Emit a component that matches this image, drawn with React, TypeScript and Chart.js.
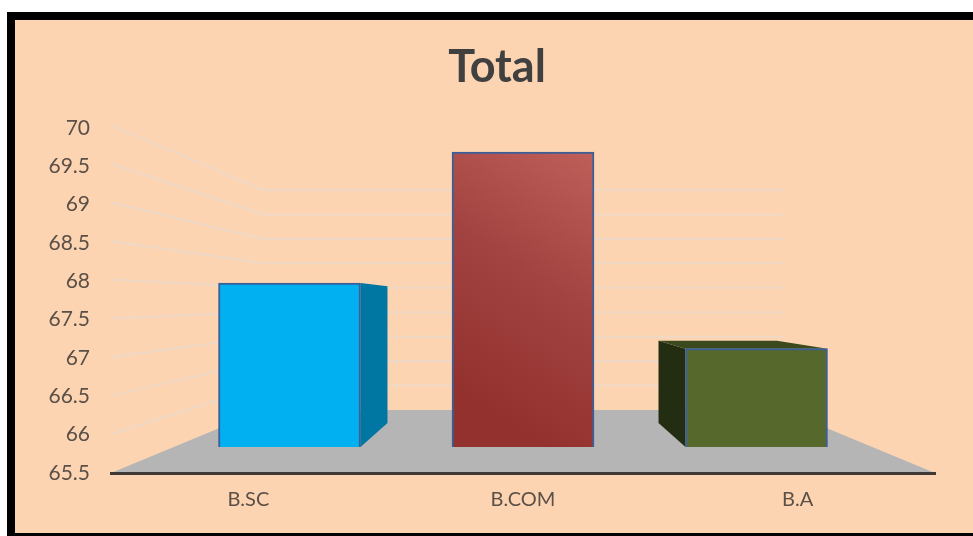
import React, { useEffect, useRef } from "react";
import { Chart, registerables } from "chart.js";

Chart.register(...registerables);

const categories = ["B.SC", "B.COM", "B.A"];
const totals = [68, 70, 67];
const barFills = ["#00B0F0", "#A34341", "#56682C"];
const sideFills = ["#0076A3", null, "#232D12"];
const topFills = [null, null, "#3B4A1E"];

const BASE_VALUE = 65.5;
// How far a bar's rear edge sits between its front face and the back wall.
const BAR_DEPTH = 0.65;
// Horizontal shrink of a bar's rear edge towards the vanishing point.
const REAR_SHRINK = 0.834;
const FONT = "Lato, Carlito, 'Open Sans', sans-serif";
const TEXT_COLOR = "#5A5048";

const scenery = {
  id: "scenery",
  beforeDraw(chart: any) {
    const { ctx, chartArea, scales } = chart;
    const backY = (v: number) => scales.yBack.getPixelForValue(v);
    const wallLeft = chartArea.left + 152;
    const wallRight = chartArea.right - 152;
    ctx.save();
    ctx.strokeStyle = "#EFD9C6";
    ctx.lineWidth = 2;
    scales.y.ticks.forEach((t: any) => {
      if (t.value <= BASE_VALUE) return;
      ctx.beginPath();
      ctx.moveTo(chartArea.left, scales.yFront.getPixelForValue(t.value));
      ctx.lineTo(wallLeft, backY(t.value));
      ctx.lineTo(wallRight, backY(t.value));
      ctx.stroke();
    });
    ctx.fillStyle = "#B5B5B5";
    ctx.beginPath();
    ctx.moveTo(chartArea.left, chartArea.bottom);
    ctx.lineTo(chartArea.right, chartArea.bottom);
    ctx.lineTo(wallRight, backY(BASE_VALUE));
    ctx.lineTo(wallLeft, backY(BASE_VALUE));
    ctx.closePath();
    ctx.fill();
    ctx.restore();
  },
  beforeDatasetsDraw(chart: any) {
    const { ctx, scales } = chart;
    const centre = scales.xBars.getPixelForValue(1);
    const rearX = (x: number) => centre + (x - centre) * REAR_SHRINK;
    const rearY = (front: number, value: number) =>
      front + BAR_DEPTH * (scales.yBack.getPixelForValue(value) - front);
    const face = (fill: string, pts: number[][]) => {
      ctx.fillStyle = fill;
      ctx.beginPath();
      pts.forEach(([x, y], i) => (i ? ctx.lineTo(x, y) : ctx.moveTo(x, y)));
      ctx.closePath();
      ctx.fill();
    };
    ctx.save();
    chart.getDatasetMeta(0).data.forEach((bar: any, i: number) => {
      const left = bar.x - bar.width / 2;
      const right = bar.x + bar.width / 2;
      const topRear = rearY(bar.y, totals[i]);
      const baseRear = rearY(bar.base, BASE_VALUE);
      const side = sideFills[i];
      if (side) {
        const edge = bar.x < centre ? right : left;
        face(side, [
          [edge, bar.y],
          [rearX(edge), topRear],
          [rearX(edge), baseRear],
          [edge, bar.base],
        ]);
      }
      const top = topFills[i];
      if (top) {
        face(top, [
          [left, bar.y],
          [rearX(left), topRear],
          [rearX(right), topRear],
          [right, bar.y],
        ]);
      }
    });
    ctx.restore();
  },
};

export default function App() {
  const ref = useRef<HTMLCanvasElement>(null);

  useEffect(() => {
    const chart = new Chart(ref.current as HTMLCanvasElement, {
      type: "bar",
      plugins: [scenery],
      data: {
        labels: categories,
        datasets: [
          {
            label: "Total",
            data: totals.map((y, x) => ({ x, y })),
            xAxisID: "xBars",
            yAxisID: "yBars",
            base: BASE_VALUE,
            barThickness: 142,
            borderWidth: 2,
            borderColor: "#3A5F98",
            backgroundColor: (c: any) => {
              if (c.dataIndex !== 1) return barFills[c.dataIndex];
              const { scales, ctx } = c.chart;
              // Diagonal sheen running from the upper right corner.
              const g = ctx.createLinearGradient(
                scales.xBars.getPixelForValue(1.3),
                scales.yBars.getPixelForValue(70),
                scales.xBars.getPixelForValue(0.66),
                scales.yBars.getPixelForValue(66.5),
              );
              g.addColorStop(0, "#BE5F5A");
              g.addColorStop(0.5, barFills[1]);
              g.addColorStop(1, "#92312E");
              return g;
            },
          },
        ] as any,
      },
      options: {
        animation: false,
        responsive: false,
        layout: { padding: { left: 21, right: 0, top: 20, bottom: 25 } },
        plugins: {
          legend: { display: false },
          tooltip: { enabled: false },
          title: {
            display: true,
            text: "Total",
            color: "#404040",
            font: { family: FONT, size: 45, weight: "bold" },
            padding: { top: 20, bottom: 34 },
          },
        },
        scales: {
          x: {
            type: "category",
            grid: { display: false, drawTicks: false },
            border: { display: true, color: "#403A36", width: 3 },
            ticks: { color: TEXT_COLOR, font: { family: FONT, size: 20 }, padding: 15, maxRotation: 0 },
            afterFit: (s: any) => { s.height = 38; },
          },
          y: {
            type: "linear",
            min: 65.5,
            max: 70,
            grid: { display: false, drawTicks: false },
            border: { display: false },
            ticks: {
              stepSize: 0.5,
              autoSkip: false,
              padding: 21,
              color: TEXT_COLOR,
              font: { family: FONT, size: 21 },
              callback: (v: any) => String(v),
            },
            afterFit: (s: any) => { s.width = 90; },
          },
          // Bars stand in a plane behind the front edge of the floor.
          xBars: { type: "linear", display: false, offset: false, min: -0.7645, max: 2.7645 },
          yBars: { type: "linear", display: false, min: 65.103, max: 70.366 },
          // Projection of the value axis on the front edge of the floor.
          yFront: { type: "linear", display: false, min: 65.5, max: 69.96 },
          // Projection on the back wall; this unlabelled axis also reserves the right margin.
          yBack: {
            type: "linear",
            position: "right",
            min: 64.211,
            max: 71.268,
            grid: { display: false, drawTicks: false },
            border: { display: false },
            ticks: { display: false },
            afterFit: (s: any) => { s.width = 38; },
          },
        },
      } as any,
    });
    return () => chart.destroy();
  }, []);

  return (
    <div style={{ position: "fixed", inset: 0, background: "#FFFFFF", overflow: "hidden" }}>
      <div style={{ position: "absolute", left: 7, top: 12, right: 0, bottom: 0, background: "#000000" }} />
      <div style={{ position: "absolute", left: 15, top: 20, right: 0, bottom: 3, background: "#FDD4B1" }} />
      <canvas ref={ref} width={973} height={536} style={{ position: "absolute", left: 0, top: 0, display: "block" }} />
    </div>
  );
}
